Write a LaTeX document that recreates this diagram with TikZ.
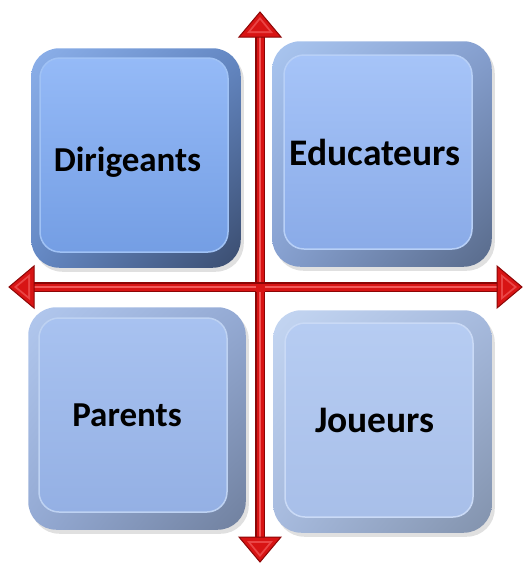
\documentclass[tikz,border=0pt]{standalone}
\usepackage{fontspec}
\setmainfont{Carlito}
\usetikzlibrary{positioning}
\usetikzlibrary{calc}
\usetikzlibrary{backgrounds}
\usetikzlibrary{shadings}

\definecolor{arrowred}{HTML}{D81414}
\definecolor{arrowdark}{HTML}{8C0606}
\definecolor{arrowlight}{HTML}{F25A5A}

% faces: top, bottom, edge
\definecolor{dirtop}{RGB}{149,186,247}
\definecolor{dirbot}{RGB}{116,158,228}
\definecolor{diredge}{RGB}{160,194,245}
\definecolor{edutop}{RGB}{166,196,248}
\definecolor{edubot}{RGB}{138,171,232}
\definecolor{eduedge}{RGB}{184,208,247}
\definecolor{partop}{RGB}{168,194,240}
\definecolor{parbot}{RGB}{148,176,228}
\definecolor{paredge}{RGB}{190,210,242}
\definecolor{joutop}{RGB}{182,204,242}
\definecolor{joubot}{RGB}{168,191,233}
\definecolor{jouedge}{RGB}{202,218,246}
% rims: light, mid, dark
\definecolor{dirlight}{RGB}{140,176,234}
\definecolor{dirmid}{RGB}{100,136,196}
\definecolor{dirdark}{RGB}{58,76,110}
\definecolor{edulight}{RGB}{170,198,240}
\definecolor{edumid}{RGB}{134,160,208}
\definecolor{edudark}{RGB}{88,106,138}
\definecolor{parlight}{RGB}{178,200,238}
\definecolor{parmid}{RGB}{148,170,212}
\definecolor{pardark}{RGB}{112,128,158}
\definecolor{joulight}{RGB}{196,214,242}
\definecolor{joumid}{RGB}{166,186,222}
\definecolor{joudark}{RGB}{130,146,172}

\tikzset{
  tile/.style={rounded corners=20pt, minimum width=188pt, minimum height=194pt,
    inner sep=0pt, font=\fontsize{35}{40}\selectfont\bfseries, line width=1.5pt,
    top color=#1top, bottom color=#1bot, draw=#1edge},
  bigtext/.style={font=\fontsize{37.5}{42}\selectfont\bfseries},
  shaft/.style={line width=7pt, draw=arrowred, preaction={draw=arrowdark, line width=10pt},
    postaction={draw=arrowlight, line width=1.2pt}},
}

% shaded rim behind a tile: node, left, top, right, bottom
\newcommand{\tilerim}[5]{
  \fill[black!12, rounded corners=28pt] ($(#1.north west)+(-#2+3,-#3+4)$) rectangle ($(#1.south east)+(#4+3,#5+4)$);
  \shade[rounded corners=28pt, upper left=#1light, upper right=#1mid, lower left=#1mid, lower right=#1dark]
    ($(#1.north west)+(-#2,-#3)$) rectangle ($(#1.south east)+(#4,#5)$);
}

\begin{document}
\begin{tikzpicture}[x=1pt, y=-1pt]

\useasboundingbox (0,0) rectangle (523,563);

% tiles
\node[tile=dir] (dir) at (134,155) {\hspace*{-13pt}\raisebox{-7pt}[\height][\depth]{Dirigeants}};
\node[tile=edu, bigtext] (edu) at (378,152) {\hspace*{-6pt}Educateurs};
\node[tile=par] (par) at (133,415) {\hspace*{-12pt}Parents};
\node[tile=jou, bigtext] (jou) at (379,420) {\hspace*{-8pt}Joueurs};

% rims
\begin{scope}[on background layer]
\tilerim{dir}{8}{9}{12}{15}
\tilerim{edu}{11}{13}{19}{17}
\tilerim{par}{10}{10}{18}{17}
\tilerim{jou}{11}{12}{18}{15}
\end{scope}

% arrow ends
\coordinate (top) at (260,12);
\coordinate (bottom) at (260,562);
\coordinate (left) at (9,287);
\coordinate (right) at (522,287);

% shafts
\draw[shaft] ($(top)+(0,24)$) -- ($(bottom)+(0,-24)$);
\draw[shaft] ($(left)+(24,0)$) -- ($(right)+(-24,0)$);
\fill[arrowred] (255.5,283.5) rectangle (264.5,291.5);

% heads
\foreach \t/\a in {top/90, bottom/-90, left/180, right/0}{
  \begin{scope}[shift={(\t)}, rotate=\a]
    \fill[arrowred, draw=arrowdark, line width=1pt, line join=miter] (0,0) -- (-25,-21) -- (-25,21) -- cycle;
    \fill[arrowlight!70!arrowred] (-5,0) -- (-21,-13) -- (-21,13) -- cycle;
    \fill[arrowred] (-8,0) -- (-19,-9) -- (-19,9) -- cycle;
  \end{scope}
}

\end{tikzpicture}
\end{document}
